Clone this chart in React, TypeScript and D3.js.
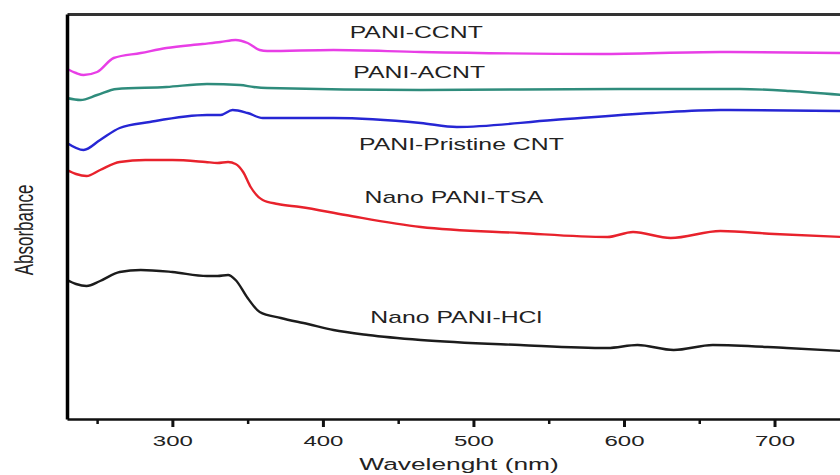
import React, { useEffect, useRef } from "react";
import * as d3 from "d3";

// absorbance spectra, [wavelength (nm), absorbance (a.u., offset)]
const paniCCNT = [
  [230, 3.5], [236, 3.46], [241, 3.44], [250, 3.47], [261, 3.61], [279, 3.66],
  [296, 3.71], [320, 3.75], [332, 3.77], [342, 3.79], [350, 3.76], [358, 3.69],
  [363, 3.68], [407, 3.69], [465, 3.67], [584, 3.65], [664, 3.67], [745, 3.66],
];
const paniACNT = [
  [230, 3.21], [239, 3.19], [250, 3.24], [263, 3.3], [296, 3.32], [323, 3.35],
  [345, 3.34], [354, 3.32], [363, 3.31], [465, 3.29], [597, 3.3], [677, 3.3],
  [710, 3.28], [745, 3.24],
];
const paniPristine = [
  [230, 2.76], [241, 2.69], [252, 2.79], [265, 2.91], [285, 2.97], [323, 3.04],
  [332, 3.04], [340, 3.09], [350, 3.06], [360, 3.01], [407, 3.01], [465, 2.96],
  [489, 2.92], [553, 2.99], [619, 3.06], [664, 3.09], [745, 3.08],
];
const nanoTSA = [
  [230, 2.49], [236, 2.45], [243, 2.43], [252, 2.49], [265, 2.57], [282, 2.59],
  [300, 2.59], [322, 2.57], [330, 2.56], [337, 2.57], [342, 2.55], [347, 2.47],
  [352, 2.32], [360, 2.19], [370, 2.15], [385, 2.12], [415, 2.04], [465, 1.92],
  [531, 1.86], [589, 1.82], [606, 1.87], [631, 1.81], [664, 1.88], [700, 1.85],
  [745, 1.82],
];
const nanoHCl = [
  [230, 1.39], [236, 1.35], [243, 1.33], [252, 1.38], [265, 1.47], [279, 1.49],
  [300, 1.47], [323, 1.43], [330, 1.43], [337, 1.44], [342, 1.39], [350, 1.21],
  [358, 1.07], [372, 1.01], [390, 0.95], [407, 0.89], [430, 0.84], [465, 0.79],
  [531, 0.74], [589, 0.71], [609, 0.74], [633, 0.69], [659, 0.74], [708, 0.71],
  [745, 0.68],
];

const seriesNames = ["PANI-CCNT", "PANI-ACNT", "PANI-Pristine CNT", "Nano PANI-TSA", "Nano PANI-HCl"];
const seriesData = [paniCCNT, paniACNT, paniPristine, nanoTSA, nanoHCl];
const seriesColors = ["#e83ee6", "#2f8c7c", "#2626d4", "#e8222c", "#1c1c1c"];
// where each curve's name is written (wavelength, absorbance of the baseline)
const labelSpots = [[462, 3.81], [464, 3.41], [492, 2.69], [487, 2.16], [488.5, 0.96]];

const majorTicks = [300, 400, 500, 600, 700];
const minorTicks = [250, 350, 450, 550, 650];

const width = 840;
const height = 475;
const margin = { top: 14, right: 0, bottom: 56, left: 67 };
const stretch = 1.55; // the original figure is stretched sideways
const font = "'Liberation Sans', Arial, sans-serif";

export default function App() {
  const svgRef = useRef<SVGSVGElement>(null);

  useEffect(() => {
    const svg = d3.select(svgRef.current);
    svg.selectAll("*").remove();

    const x = d3.scaleLinear().domain([230, 743.5]).range([margin.left, width - margin.right]);
    const y = d3.scaleLinear().domain([0, 4.05]).range([height - margin.bottom, margin.top]);

    const line = d3
      .line<number[]>()
      .x((d) => x(d[0]))
      .y((d) => y(d[1]))
      .curve(d3.curveMonotoneX);

    // curves
    svg
      .append("g")
      .selectAll("path")
      .data(seriesData)
      .join("path")
      .attr("d", (d) => line(d))
      .attr("fill", "none")
      .attr("stroke", (d, i) => seriesColors[i])
      .attr("stroke-width", 2.4)
      .attr("stroke-linejoin", "round");

    // curve names
    svg
      .append("g")
      .selectAll("text")
      .data(seriesNames)
      .join("text")
      .text((d) => d)
      .attr("transform", (d, i) => `translate(${x(labelSpots[i][0])},${y(labelSpots[i][1])}) scale(${stretch},1)`)
      .attr("text-anchor", "middle")
      .style("font-family", font)
      .style("font-size", "16px")
      .style("fill", "#222");

    // top frame
    svg
      .append("g")
      .attr("transform", `translate(0,${margin.top})`)
      .call(d3.axisTop(x).tickValues([]).tickSizeOuter(0))
      .select(".domain")
      .attr("stroke", "#333")
      .attr("stroke-width", 3);

    // minor ticks
    const minor = svg
      .append("g")
      .attr("transform", `translate(0,${height - margin.bottom})`)
      .call(d3.axisBottom(x).tickValues(minorTicks).tickSize(5).tickFormat(() => "").tickSizeOuter(0));
    minor.select(".domain").remove();
    minor.selectAll("line").attr("stroke", "#111").attr("stroke-width", 2.5);

    // x axis
    const xg = svg
      .append("g")
      .attr("transform", `translate(0,${height - margin.bottom})`)
      .call(d3.axisBottom(x).tickValues(majorTicks).tickSize(8).tickSizeOuter(0));
    xg.select(".domain").attr("stroke", "#111").attr("stroke-width", 2.5);
    xg.selectAll("line").attr("stroke", "#111").attr("stroke-width", 3);
    xg.selectAll("text")
      .attr("y", 0)
      .attr("dy", 0)
      .attr("transform", `translate(0,27) scale(${stretch},1)`)
      .style("font-family", font)
      .style("font-size", "15.5px")
      .style("fill", "#222");

    // left axis
    svg
      .append("g")
      .attr("transform", `translate(${margin.left},0)`)
      .call(d3.axisLeft(y).tickValues([]).tickSizeOuter(0))
      .select(".domain")
      .attr("stroke", "#000")
      .attr("stroke-width", 3.5);

    // axis titles
    svg
      .append("text")
      .text("Wavelenght (nm)")
      .attr("transform", `translate(459,470) scale(${stretch},1)`)
      .attr("text-anchor", "middle")
      .style("font-family", font)
      .style("font-size", "17px")
      .style("fill", "#222");

    svg
      .append("text")
      .text("Absorbance")
      .attr("transform", `translate(33,230) scale(${stretch},1) rotate(-90)`)
      .attr("text-anchor", "middle")
      .style("font-family", font)
      .style("font-size", "17px")
      .style("fill", "#222");
  }, []);

  return (
    <div style={{ position: "absolute", left: 0, top: 0 }}>
      <svg ref={svgRef} width={width} height={height} style={{ display: "block", background: "#fff" }} />
    </div>
  );
}
